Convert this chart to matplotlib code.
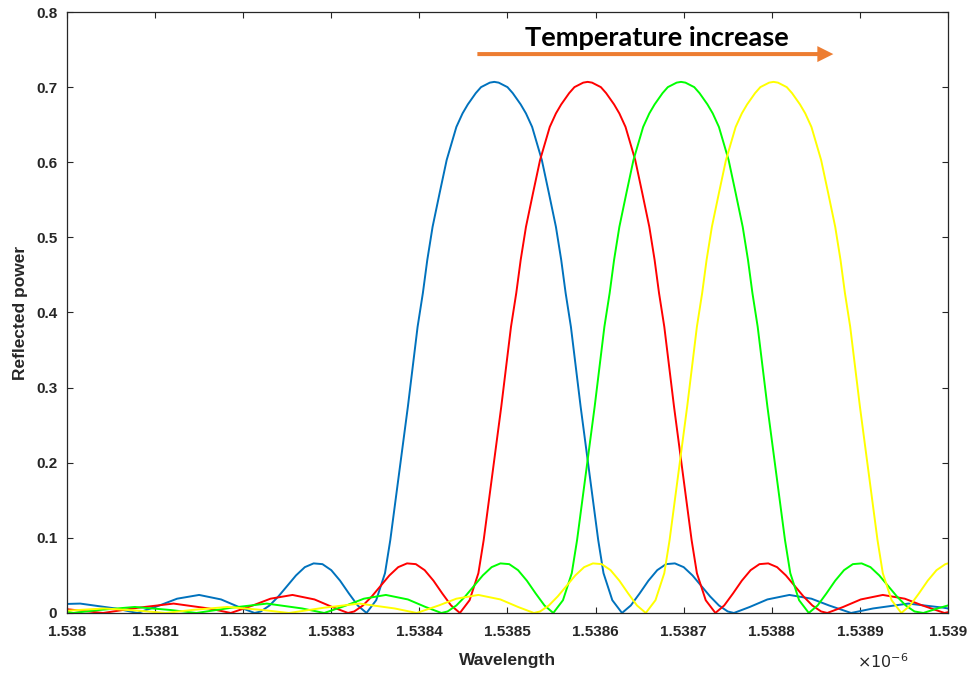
#!/usr/bin/env python3
import matplotlib
matplotlib.use('Agg')
import matplotlib.pyplot as plt
from matplotlib.patches import FancyArrowPatch

# reflection spectra of the grating at 4 temperatures, wavelength in um (x 1e-6 m)
wl_blue = [1.538000, 1.538015, 1.538055, 1.538080, 1.538105, 1.538125, 1.538150, 1.538175,
           1.538195, 1.538213, 1.538220, 1.538230, 1.538240, 1.538250, 1.538260, 1.538270,
           1.538280, 1.538290, 1.538300, 1.538310, 1.538320, 1.538330, 1.538340, 1.538351,
           1.538361, 1.538367, 1.538377, 1.538387, 1.538398, 1.538404, 1.538409, 1.538415,
           1.538423, 1.538431, 1.538442, 1.538449, 1.538455, 1.538464, 1.538470, 1.538475,
           1.538480, 1.538485, 1.538490, 1.538495, 1.538500,
           1.538506, 1.538515, 1.538521, 1.538528, 1.538539, 1.538547, 1.538555,
           1.538561, 1.538566, 1.538572, 1.538583, 1.538593, 1.538603, 1.538609, 1.538619,
           1.538630, 1.538640, 1.538650, 1.538660, 1.538670, 1.538680, 1.538690, 1.538700,
           1.538710, 1.538720, 1.538730, 1.538740, 1.538750, 1.538757, 1.538775, 1.538795,
           1.538820, 1.538845, 1.538865, 1.538890, 1.538915, 1.538955, 1.538995, 1.539000]
r_blue = [0.012, 0.0125, 0.006, 0.000, 0.010, 0.019, 0.024, 0.018,
          0.008, 0.000, 0.002, 0.010, 0.022, 0.036, 0.050, 0.061,
          0.066, 0.065, 0.057, 0.043, 0.026, 0.010, 0.000, 0.017,
          0.053, 0.097, 0.186, 0.275, 0.381, 0.426, 0.470, 0.514,
          0.559, 0.603, 0.647, 0.665, 0.677, 0.692, 0.700, 0.703,
          0.706, 0.707, 0.706, 0.703, 0.700,
          0.692, 0.677, 0.665, 0.647, 0.603, 0.559, 0.514,
          0.470, 0.426, 0.381, 0.275, 0.186, 0.097, 0.053, 0.017,
          0.000, 0.010, 0.026, 0.043, 0.057, 0.065, 0.066, 0.061,
          0.050, 0.036, 0.022, 0.010, 0.002, 0.000, 0.008, 0.018,
          0.024, 0.019, 0.010, 0.000, 0.006, 0.0125, 0.007, 0.006]

wl_red = [1.538000, 1.538041, 1.538081, 1.538121, 1.538161, 1.538186, 1.538211, 1.538231,
          1.538256, 1.538281, 1.538301, 1.538319, 1.538326, 1.538336, 1.538346, 1.538356,
          1.538366, 1.538376, 1.538386, 1.538396, 1.538406, 1.538416, 1.538426, 1.538436,
          1.538446, 1.538457, 1.538467, 1.538473, 1.538483, 1.538493, 1.538504, 1.538510,
          1.538515, 1.538521, 1.538529, 1.538537, 1.538548, 1.538555, 1.538561, 1.538570,
          1.538576, 1.538581, 1.538586, 1.538591, 1.538596, 1.538601, 1.538606,
          1.538612, 1.538621, 1.538627, 1.538634, 1.538645,
          1.538653, 1.538661, 1.538667, 1.538672, 1.538678, 1.538689, 1.538699, 1.538709,
          1.538715, 1.538725, 1.538736, 1.538746, 1.538756, 1.538766, 1.538776, 1.538786,
          1.538796, 1.538806, 1.538816, 1.538826, 1.538836, 1.538846, 1.538856, 1.538863,
          1.538881, 1.538901, 1.538926, 1.538951, 1.538971, 1.538996, 1.539000]
r_red = [0.005, 0.000, 0.007, 0.0125, 0.006, 0.000, 0.010, 0.019,
         0.024, 0.018, 0.008, 0.000, 0.002, 0.010, 0.022, 0.036,
         0.050, 0.061, 0.066, 0.065, 0.057, 0.043, 0.026, 0.010,
         0.000, 0.017, 0.053, 0.097, 0.186, 0.275, 0.381, 0.426,
         0.470, 0.514, 0.559, 0.603, 0.647, 0.665, 0.677, 0.692,
         0.700, 0.703, 0.706, 0.707, 0.706, 0.703, 0.700,
         0.692, 0.677, 0.665, 0.647, 0.603,
         0.559, 0.514, 0.470, 0.426, 0.381, 0.275, 0.186, 0.097,
         0.053, 0.017, 0.000, 0.010, 0.026, 0.043, 0.057, 0.065,
         0.066, 0.061, 0.050, 0.036, 0.022, 0.010, 0.002, 0.000,
         0.008, 0.018, 0.024, 0.019, 0.010, 0.000, 0.001]

wl_green = [1.538000, 1.538007, 1.538037, 1.538077, 1.538117, 1.538147, 1.538187, 1.538227,
            1.538267, 1.538292, 1.538317, 1.538337, 1.538362, 1.538387, 1.538407, 1.538425,
            1.538432, 1.538442, 1.538452, 1.538462, 1.538472, 1.538482, 1.538492, 1.538502,
            1.538512, 1.538522, 1.538532, 1.538542, 1.538552, 1.538563, 1.538573, 1.538579,
            1.538589, 1.538599, 1.538610, 1.538616, 1.538621, 1.538627, 1.538635, 1.538643,
            1.538654, 1.538661, 1.538667, 1.538676, 1.538682, 1.538687, 1.538692, 1.538697,
            1.538702, 1.538707, 1.538712, 1.538718,
            1.538727, 1.538733, 1.538740, 1.538751, 1.538759, 1.538767, 1.538773, 1.538778,
            1.538784, 1.538795, 1.538805, 1.538815, 1.538821, 1.538831, 1.538842, 1.538852,
            1.538862, 1.538872, 1.538882, 1.538892, 1.538902, 1.538912, 1.538922, 1.538932,
            1.538942, 1.538952, 1.538962, 1.538972, 1.538988, 1.539000]
r_green = [0.002, 0.000, 0.004, 0.008, 0.004, 0.000, 0.007, 0.0125,
           0.006, 0.000, 0.010, 0.019, 0.024, 0.018, 0.008, 0.000,
           0.002, 0.010, 0.022, 0.036, 0.050, 0.061, 0.066, 0.065,
           0.057, 0.043, 0.026, 0.010, 0.000, 0.017, 0.053, 0.097,
           0.186, 0.275, 0.381, 0.426, 0.470, 0.514, 0.559, 0.603,
           0.647, 0.665, 0.677, 0.692, 0.700, 0.703, 0.706, 0.707,
           0.706, 0.703, 0.700, 0.692,
           0.677, 0.665, 0.647, 0.603, 0.559, 0.514, 0.470, 0.426,
           0.381, 0.275, 0.186, 0.097, 0.053, 0.017, 0.000, 0.010,
           0.026, 0.043, 0.057, 0.065, 0.066, 0.061, 0.050, 0.036,
           0.022, 0.010, 0.002, 0.000, 0.006, 0.010]

wl_yellow = [1.538000, 1.538042, 1.538082, 1.538112, 1.538142, 1.538182, 1.538222, 1.538252,
             1.538292, 1.538332, 1.538372, 1.538397, 1.538422, 1.538442, 1.538467, 1.538492,
             1.538512, 1.538530, 1.538537, 1.538547, 1.538557, 1.538567, 1.538577, 1.538587,
             1.538597, 1.538607, 1.538617, 1.538627, 1.538637, 1.538647, 1.538657, 1.538668,
             1.538678, 1.538684, 1.538694, 1.538704, 1.538715, 1.538721, 1.538726, 1.538732,
             1.538740, 1.538748, 1.538759, 1.538766, 1.538772, 1.538781, 1.538787, 1.538792,
             1.538797, 1.538802, 1.538807, 1.538812, 1.538817,
             1.538823, 1.538832, 1.538838, 1.538845, 1.538856, 1.538864, 1.538872,
             1.538878, 1.538883, 1.538889, 1.538900, 1.538910, 1.538920, 1.538926, 1.538936,
             1.538947, 1.538957, 1.538967, 1.538977, 1.538987, 1.538997, 1.539000]
r_yellow = [0.003, 0.006, 0.003, 0.000, 0.004, 0.008, 0.004, 0.000,
            0.007, 0.0125, 0.006, 0.000, 0.010, 0.019, 0.024, 0.018,
            0.008, 0.000, 0.002, 0.010, 0.022, 0.036, 0.050, 0.061,
            0.066, 0.065, 0.057, 0.043, 0.026, 0.010, 0.000, 0.017,
            0.053, 0.097, 0.186, 0.275, 0.381, 0.426, 0.470, 0.514,
            0.559, 0.603, 0.647, 0.665, 0.677, 0.692, 0.700, 0.703,
            0.706, 0.707, 0.706, 0.703, 0.700,
            0.692, 0.677, 0.665, 0.647, 0.603, 0.559, 0.514,
            0.470, 0.426, 0.381, 0.275, 0.186, 0.097, 0.053, 0.017,
            0.000, 0.010, 0.026, 0.043, 0.057, 0.065, 0.066]

xticks = [1.5380, 1.5381, 1.5382, 1.5383, 1.5384, 1.5385, 1.5386, 1.5387, 1.5388, 1.5389, 1.5390]
xtick_labels = ['1.538', '1.5381', '1.5382', '1.5383', '1.5384', '1.5385',
                '1.5386', '1.5387', '1.5388', '1.5389', '1.539']
yticks = [0, 0.1, 0.2, 0.3, 0.4, 0.5, 0.6, 0.7, 0.8]
ytick_labels = ['0', '0.1', '0.2', '0.3', '0.4', '0.5', '0.6', '0.7', '0.8']

axcol = '#262626'
plt.rcParams['font.family'] = ['Liberation Sans', 'DejaVu Sans']

fig = plt.figure(figsize=(9.73, 6.75), dpi=100)
ax = fig.add_axes([0.0688, 0.0919, 0.9055, 0.8903])

ax.plot(wl_blue, r_blue, color='#0072BD', lw=1.4)
ax.plot(wl_red, r_red, color='#FF0000', lw=1.4)
ax.plot(wl_green, r_green, color='#00FF00', lw=1.4)
ax.plot(wl_yellow, r_yellow, color='#FFFF00', lw=1.4)

ax.set_xlim(1.538, 1.539)
ax.set_ylim(0, 0.8)
ax.set_xticks(xticks)
ax.set_xticklabels(xtick_labels)
ax.set_yticks(yticks)
ax.set_yticklabels(ytick_labels)
ax.tick_params(direction='in', length=4.5, width=0.8, colors=axcol, labelsize=11,
               top=True, right=True)
ax.tick_params(axis='x', pad=9)
ax.tick_params(axis='y', pad=7)
for lab in ax.get_xticklabels() + ax.get_yticklabels():
    lab.set_fontweight('bold')
for sp in ax.spines.values():
    sp.set_color(axcol)
    sp.set_linewidth(0.9)

ax.set_xlabel('Wavelength', fontsize=12.5, fontweight='bold', color=axcol, labelpad=10)
ax.set_ylabel('Reflected power', fontsize=12.5, fontweight='bold', color=axcol, labelpad=6)
fig.text(0.881, 0.011, r'$\times10^{-6}$', fontsize=11.5, color=axcol, ha='left', va='baseline')

# the temperature arrow on top
arr = FancyArrowPatch((1.5384627, 0.744), (1.538873, 0.744),
                      arrowstyle='simple,head_length=1.15,head_width=1.15,tail_width=0.29',
                      mutation_scale=10, color='#ED7D31', lw=0)
ax.add_patch(arr)
ax.text(1.538670, 0.765, 'Temperature increase', family=['Lato', 'DejaVu Sans'],
        fontsize=19.5, fontweight='bold', color='black', ha='center', va='center')

fig.savefig('out.png', dpi=100)
